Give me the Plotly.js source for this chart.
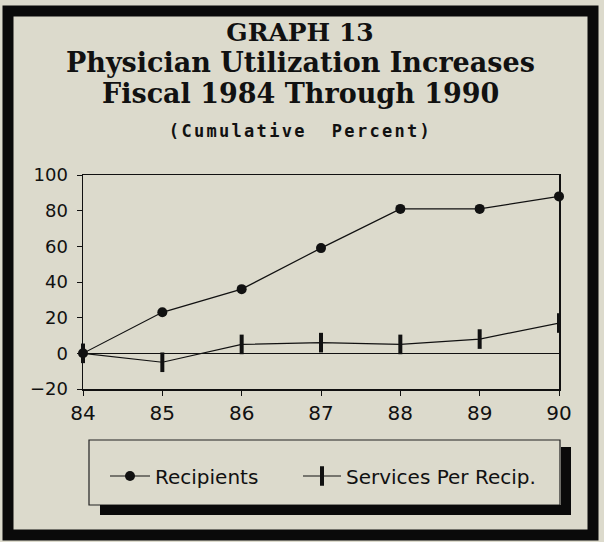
<!DOCTYPE html>
<html><head><meta charset="utf-8">
<script src="https://cdn.plot.ly/plotly-3.0.1.min.js"></script>
<style>
html,body{margin:0;padding:0;background:#dcdacc;}
#chart{width:604px;height:542px;}
.annotation[data-index="2"] text{letter-spacing:2.3px;}
</style></head><body><div id="chart"></div>
<script>
// ---- data ----
const years = [84, 85, 86, 87, 88, 89, 90];
const recipients = [0, 23, 36, 59, 81, 81, 88];
const servicesPerRecip = [0, -5, 5, 6, 5, 8, 17];
const yTickVals = [-20, 0, 20, 40, 60, 80, 100];
const xTickLabels = ['84', '85', '86', '87', '88', '89', '90'];
const seriesNames = ['Recipients', 'Services Per Recip.'];
const titleMain = 'GRAPH 13';
const titleLine2 = 'Physician Utilization Increases';
const titleLine3 = 'Fiscal 1984 Through 1990';
const subTitle = '(Cumulative  Percent)';

// ---- layout helpers (pixel -> paper) ----
const W = 604, H = 542, ML = 83, MR = 45, MT = 175, MB = 153;
const PW = W - ML - MR, PH = H - MT - MB;
const px = x => (x - ML) / PW;
const py = y => (H - MB - y) / PH;
const bg = '#dcdacc';

const traces = [
  {
    x: years, y: recipients, name: seriesNames[0], type: 'scatter', mode: 'lines+markers',
    line: {color: '#111', width: 1.2},
    marker: {symbol: 'circle', size: 10, color: '#111'},
    cliponaxis: false, legend: 'legend'
  },
  {
    x: years, y: servicesPerRecip, name: seriesNames[1], type: 'scatter', mode: 'lines+markers',
    line: {color: '#111', width: 1.2},
    marker: {symbol: 'line-ns-open', size: 14, color: '#111', line: {color: '#111', width: 4}},
    cliponaxis: false, legend: 'legend2'
  }
];

const serif = {family: 'DejaVu Serif, serif', size: 25, color: '#111', weight: 700};
const serif2 = {family: 'DejaVu Serif, serif', size: 27, color: '#111', weight: 700};
const legFont = {family: 'DejaVu Sans, sans-serif', size: 20, color: '#111'};

const layout = {
  width: W, height: H,
  margin: {l: ML, r: MR, t: MT, b: MB, pad: 0},
  paper_bgcolor: bg, plot_bgcolor: bg,
  showlegend: true,
  title: {
    text: titleMain, font: serif,
    x: 300 / W, xref: 'container', xanchor: 'center',
    y: 1 - 32.5 / H, yref: 'container', yanchor: 'middle'
  },
  xaxis: {
    range: [84, 90], tickvals: years, ticktext: xTickLabels,
    showgrid: false, zeroline: false,
    showline: true, linecolor: '#111', linewidth: 1.5, mirror: true,
    ticks: 'outside', ticklen: 5, tickcolor: '#111', tickwidth: 1,
    tickfont: {family: 'DejaVu Sans, sans-serif', size: 20, color: '#111'}
  },
  yaxis: {
    range: [-20, 100], tickvals: yTickVals,
    showgrid: false, zeroline: true, zerolinecolor: '#111', zerolinewidth: 1.5,
    showline: true, linecolor: '#111', linewidth: 1.5, mirror: true,
    ticks: 'outside', ticklen: 5, tickcolor: '#111', tickwidth: 1,
    ticklabelstandoff: 5,
    tickfont: {family: 'DejaVu Sans, sans-serif', size: 18, color: '#111'}
  },
  legend: {
    orientation: 'h', x: px(105), xanchor: 'left', y: py(476), yanchor: 'middle',
    bgcolor: 'rgba(0,0,0,0)', borderwidth: 0, font: legFont, itemwidth: 40
  },
  legend2: {
    orientation: 'h', x: px(298), xanchor: 'left', y: py(476), yanchor: 'middle',
    bgcolor: 'rgba(0,0,0,0)', borderwidth: 0, font: legFont, itemwidth: 38
  },
  annotations: [
    {text: titleLine2, xref: 'paper', yref: 'paper', x: px(300), y: py(62.5), xanchor: 'center', yanchor: 'middle', showarrow: false, font: serif2},
    {text: titleLine3, xref: 'paper', yref: 'paper', x: px(300), y: py(93), xanchor: 'center', yanchor: 'middle', showarrow: false, font: serif2},
    {text: subTitle, xref: 'paper', yref: 'paper', x: px(300), y: py(131), xanchor: 'center', yanchor: 'middle', showarrow: false,
     font: {family: 'DejaVu Sans Mono, monospace', size: 17, color: '#111', weight: 700}}
  ],
  shapes: [
    // outer thick frame
    {type: 'rect', xref: 'paper', yref: 'paper', x0: px(8), x1: px(593), y0: py(11), y1: py(535),
     line: {color: '#0a0a0a', width: 11}, fillcolor: 'rgba(0,0,0,0)', layer: 'above'},
    // legend box
    {type: 'rect', xref: 'paper', yref: 'paper', x0: px(89), x1: px(560), y0: py(440), y1: py(505),
     line: {color: '#222', width: 1.2}, fillcolor: 'rgba(0,0,0,0)', layer: 'above'},
    // legend shadow right
    {type: 'rect', xref: 'paper', yref: 'paper', x0: px(561), x1: px(571), y0: py(447), y1: py(515),
     line: {width: 0}, fillcolor: '#0a0a0a', layer: 'above'},
    // legend shadow bottom
    {type: 'rect', xref: 'paper', yref: 'paper', x0: px(100), x1: px(571), y0: py(505), y1: py(515),
     line: {width: 0}, fillcolor: '#0a0a0a', layer: 'above'}
  ]
};

Plotly.newPlot('chart', traces, layout, {displayModeBar: false, staticPlot: true});
</script></body></html>
